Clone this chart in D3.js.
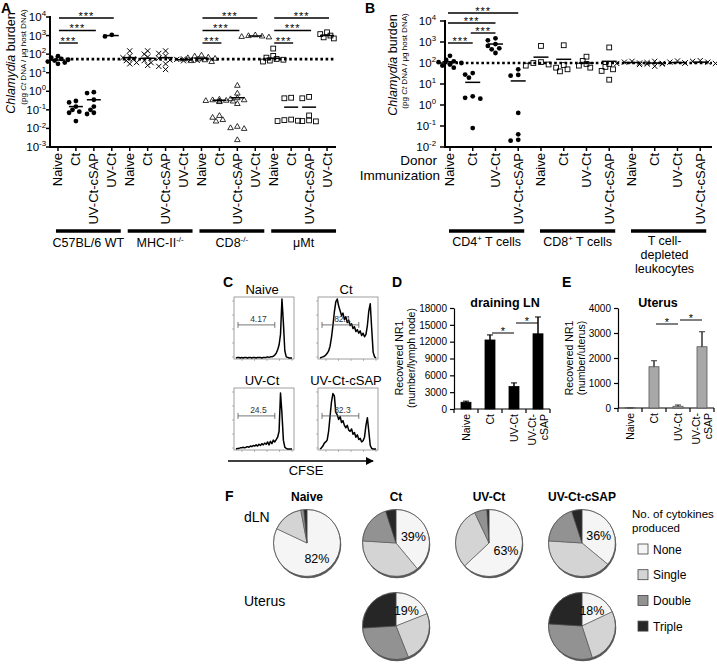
<!DOCTYPE html>
<html><head><meta charset="utf-8">
<script src="https://cdn.jsdelivr.net/npm/d3@7"></script>
<style>body{margin:0;background:#fff} svg{font-family:Arial,"Liberation Sans",Helvetica,sans-serif}</style>
</head><body><svg id="c" width="717" height="664"></svg>
<script>
// ================= DATA =================
// Panel A
const aGroupNames = ["C57BL/6 WT", "MHC-II", "CD8", "μMt"];
const aGroupSups = ["", "-/-", "-/-", ""];
const aImmunizations = ["Naive", "Ct", "UV-Ct-cSAP", "UV-Ct"];
const aWT = [[78, 65, 55, 50, 45, 40, 35, 30], [0.3, 0.25, 0.15, 0.1, 0.08, 0.07, 0.025], [0.9, 0.8, 0.35, 0.15, 0.1, 0.07, 0.06], [1100, 900]];
const aWTMean = [48, 0.15, 0.35, 1000];
const aMHC = [[150, 80, 65, 55, 45, 35, 30], [150, 100, 70, 45, 35, 25], [150, 110, 80, 60, 30, 22, 15], [55, 52, 50, 48, 46, 44]];
const aMHCMean = [65, 60, 65, 50];
const aCD8 = [[90, 80, 70, 65, 60, 55, 50, 45, 40], [0.38, 0.35, 0.33, 0.32, 0.3, 0.3, 0.28, 0.05, 0.04, 0.03, 0.025], [2.1, 0.8, 0.45, 0.4, 0.35, 0.22, 0.013, 0.011, 0.01, 0.0025], [1100, 1000, 950, 900, 850]];
const aCD8Mean = [60, 0.33, 0.45, 950];
const aMuMt = [[200, 80, 65, 55, 50, 45, 40], [0.45, 0.42, 0.03, 0.028, 0.026, 0.025], [0.5, 0.42, 0.05, 0.027, 0.025, 0.024], [1500, 1200, 1000, 800, 700]];
const aMuMtMean = [60, 0.14, 0.14, 1000];
const aBaseline = 54;
const aSigGroups = [0, 2, 3];
const aSigPairs = [[0, 1], [0, 2], [0, 3]];
const aTicks = [-3, -2, -1, 0, 1, 2, 3, 4];

// Panel B
const bGroupNames = ["CD4", "CD8", "T cell-|depleted|leukocytes"];
const bImmunizations = ["Naive", "Ct", "UV-Ct", "UV-Ct-cSAP"];
const bCD4 = [[220, 140, 120, 110, 100, 85, 75, 60], [33, 28, 20, 2.6, 2.2, 2.0, 0.08], [1500, 1200, 800, 650, 500, 450, 300], [50, 27, 25, 0.42, 0.04, 0.022, 0.02]];
const bCD4Mean = [115, 12, 800, 14];
const bCD8 = [[650, 110, 100, 85, 75], [700, 80, 60, 50, 40], [200, 125, 90, 75, 60], [550, 90, 65, 50, 42, 16]];
const bCD8Mean = [190, 150, 100, 120];
const bTdep = [[120, 110, 100, 95, 90], [120, 105, 95, 85, 70], [125, 110, 100, 90], [130, 120, 110, 100, 95]];
const bTdepMean = [105, 100, 105, 110];
const bBaseline = 100;
const bSigPairs = [[0, 1], [1, 2], [0, 2], [0, 3]];
const bTicks = [-2, -1, 0, 1, 2, 3, 4];

// Panel C
const histTitles = ["Naive", "Ct", "UV-Ct", "UV-Ct-cSAP"];
const histGates = ["4.17", "82.1", "24.5", "82.3"];
const histNaive = [0,0.01,0.01,0,0.01,0,0.01,0.01,0,0.01,0.01,0,0.01,0.01,0,0.01,0.01,0.01,0,0.01,0.01,0.01,0.02,0.01,0.02,0.02,0.03,0.05,0.08,0.14,0.22,0.4,1.0,0.6,0.12,0.02,0.01,0,0,0];
const histCt = [0,0.01,0.02,0.03,0.05,0.08,0.12,0.2,0.35,0.55,0.78,0.95,1.0,0.88,0.8,0.72,0.76,0.65,0.7,0.6,0.64,0.55,0.58,0.5,0.53,0.45,0.48,0.42,0.46,0.38,0.42,0.36,0.4,0.55,0.8,0.92,0.5,0.1,0.02,0];
const histUV = [0,0.01,0.01,0.02,0.02,0.03,0.02,0.03,0.04,0.03,0.05,0.04,0.06,0.05,0.07,0.05,0.08,0.06,0.09,0.07,0.1,0.08,0.12,0.07,0.13,0.09,0.15,0.12,0.16,0.2,0.3,0.95,0.6,0.15,0.03,0.01,0,0,0,0];
const histCsap = [0,0.02,0.05,0.1,0.12,0.15,0.3,0.55,0.8,0.94,0.9,0.62,0.58,0.5,0.55,0.45,0.48,0.4,0.36,0.4,0.32,0.3,0.34,0.25,0.28,0.2,0.24,0.16,0.18,0.12,0.14,0.2,0.4,0.53,0.3,0.06,0.01,0,0,0];

// Panels D and E
const deCats = ["Naive", "Ct", "UV-Ct", "UV-Ct-|cSAP"];
const dMean = [1200, 12300, 4000, 13400];
const dErr = [200, 900, 650, 3000];
const dTicks = [0, 3000, 6000, 9000, 12000, 15000, 18000];
const eMean = [10, 1650, 70, 2450];
const eErr = [5, 240, 50, 600];
const eTicks = [0, 1000, 2000, 3000, 4000];
const deSigPairs = [[1, 2], [2, 3]];

// Panel F
const pieCats = ["None", "Single", "Double", "Triple"];
const pieColors = ["#f5f5f5", "#d4d4d4", "#929292", "#262626"];
const fTitles = ["Naive", "Ct", "UV-Ct", "UV-Ct-cSAP"];
const fNaiveDLN = [82, 15, 1.5, 1.5];
const fCtDLN = [39, 37, 19, 5];
const fUVDLN = [63, 30, 6, 1];
const fCsapDLN = [36, 40, 19, 5];
const fCtUterus = [19, 25, 30, 26];
const fCsapUterus = [18, 27, 31, 24];

// ================= DRAWING =================
const svg = d3.select("#c");

function panelLetter(t, x, y) {
  svg.append("text").attr("x", x).attr("y", y).attr("font-size", 14).attr("font-weight", "bold").text(t);
}

function marker(g, type, x, y) {
  if (type === "dot") g.append("circle").attr("cx", x).attr("cy", y).attr("r", 2.4).attr("fill", "#000");
  else if (type === "tri") g.append("path").attr("d", `M${x},${y-2.8}L${x+2.8},${y+2}L${x-2.8},${y+2}Z`).attr("fill", "none").attr("stroke", "#000").attr("stroke-width", 0.8);
  else if (type === "sq") g.append("rect").attr("x", x-2.4).attr("y", y-2.4).attr("width", 4.8).attr("height", 4.8).attr("fill", "none").attr("stroke", "#000").attr("stroke-width", 0.9);
  else g.append("path").attr("d", `M${x-2.6},${y-2.6}L${x+2.6},${y+2.6}M${x-2.6},${y+2.6}L${x+2.6},${y-2.6}`).attr("stroke", "#000").attr("stroke-width", 1);
}

function swarm(vals, yScale, cx, step) {
  const pts = vals.map(v => ({ y: yScale(v) })).sort((a, b) => a.y - b.y);
  const offs = [0, -1, 1, -2, 2, -3, 3, -4, 4];
  const placed = [];
  pts.forEach(p => {
    for (const o of offs) {
      const x = cx + o * step;
      if (placed.every(q => (q.x - x) ** 2 + (q.y - p.y) ** 2 >= (step * 1.25) ** 2)) { p.x = x; break; }
    }
    if (p.x === undefined) p.x = cx;
    placed.push(p);
  });
  return pts;
}

function rotLabel(g, x, yTop, txt, size) {
  g.append("text").attr("transform", `translate(${x},${yTop}) rotate(-90)`).attr("text-anchor", "end")
    .attr("font-size", size).text(txt);
}

function decadeLabel(g, x, y, e, size) {
  const t = g.append("text").attr("x", x).attr("y", y + size * 0.35).attr("text-anchor", "end").attr("font-size", size);
  t.append("tspan").text("10");
  t.append("tspan").attr("font-size", size * 0.68).attr("dy", -size * 0.42).text(e);
}

function yLabel2(g, x1, y1, x2, y2) {
  const t1 = g.append("text").attr("transform", `translate(${x1},${y1}) rotate(-90)`).attr("text-anchor", "middle")
    .attr("font-size", 12.5);
  t1.append("tspan").attr("font-style", "italic").text("Chlamydia");
  t1.append("tspan").text(" burden");
  const t2 = g.append("text").attr("transform", `translate(${x2},${y2}) rotate(-90)`).attr("text-anchor", "middle")
    .attr("font-size", 8);
  t2.append("tspan").text("(pg ");
  t2.append("tspan").attr("font-style", "italic").text("Ct");
  t2.append("tspan").text(" DNA / μg host DNA)");
}

// ---------- Panel A ----------
(function () {
  const g = svg.append("g");
  panelLetter("A", 1, 13);
  const x = d3.scaleBand().domain(d3.range(16)).range([49, 336]);
  const cx = i => x(i) + x.bandwidth() / 2;
  const y = d3.scaleLog().domain([1e-3, 1e4]).range([147, 17]);
  g.append("line").attr("x1", 50).attr("x2", 50).attr("y1", 16).attr("y2", 148).attr("stroke", "#000").attr("stroke-width", 2);
  g.append("line").attr("x1", 49).attr("x2", 336).attr("y1", 147).attr("y2", 147).attr("stroke", "#000").attr("stroke-width", 2);
  aTicks.forEach(e => {
    const yy = y(Math.pow(10, e));
    g.append("line").attr("x1", 46).attr("x2", 50).attr("y1", yy).attr("y2", yy).attr("stroke", "#000").attr("stroke-width", 1.5);
    decadeLabel(g, 46, yy, e, 11.5);
  });
  yLabel2(g, 15, 63, 26, 57);
  g.append("line").attr("x1", 50).attr("x2", 336).attr("y1", y(aBaseline)).attr("y2", y(aBaseline))
    .attr("stroke", "#000").attr("stroke-width", 2.6).attr("stroke-dasharray", "2.6,2.6");
  const groups = [aWT, aMHC, aCD8, aMuMt];
  const means = [aWTMean, aMHCMean, aCD8Mean, aMuMtMean];
  const mtypes = ["dot", "x", "tri", "sq"];
  groups.forEach((gd, gi) => {
    gd.forEach((vals, ci) => {
      const i = gi * 4 + ci;
      const c = cx(i);
      swarm(vals, y, c, 3.4).forEach(p => marker(g, mtypes[gi], p.x, p.y));
      const m = y(means[gi][ci]);
      g.append("line").attr("x1", c - 7).attr("x2", c + 7).attr("y1", m).attr("y2", m).attr("stroke", "#000").attr("stroke-width", 1.5);
    });
    for (let ci = 0; ci < 4; ci++) {
      const i = gi * 4 + ci;
      g.append("line").attr("x1", cx(i)).attr("x2", cx(i)).attr("y1", 147).attr("y2", 151).attr("stroke", "#000").attr("stroke-width", 1.5);
      rotLabel(g, cx(i) + 4.5, 153, aImmunizations[ci], 13);
    }
    const x1 = cx(gi * 4) - 2, x2 = cx(gi * 4 + 3) + 9;
    g.append("line").attr("x1", x1).attr("x2", x2).attr("y1", 231).attr("y2", 231).attr("stroke", "#000").attr("stroke-width", 3.5);
    const t = g.append("text").attr("x", (x1 + x2) / 2).attr("y", 247).attr("text-anchor", "middle").attr("font-size", 12.5);
    t.append("tspan").text(aGroupNames[gi]);
    if (aGroupSups[gi]) t.append("tspan").attr("font-size", 8).attr("dy", -5).text(aGroupSups[gi]);
  });
  aSigGroups.forEach(gi => {
    aSigPairs.forEach((pr, lvl) => {
      const yy = 43 - lvl * 12.5;
      const a = cx(gi * 4 + pr[0]) + 1, b = cx(gi * 4 + pr[1]) + 2;
      g.append("line").attr("x1", a).attr("x2", b).attr("y1", yy).attr("y2", yy).attr("stroke", "#000").attr("stroke-width", 1.4);
      g.append("text").attr("x", (a + b) / 2).attr("y", yy + 1.5).attr("text-anchor", "middle").attr("font-size", 11).attr("letter-spacing", 1).text("***");
    });
  });
})();

// ---------- Panel B ----------
(function () {
  const g = svg.append("g");
  panelLetter("B", 365, 13);
  const x = d3.scaleBand().domain(d3.range(12)).range([438.6, 711.6]);
  const cx = i => x(i) + x.bandwidth() / 2;
  const y = d3.scaleLog().domain([1e-2, 1e4]).range([147, 21]);
  g.append("line").attr("x1", 445).attr("x2", 445).attr("y1", 20).attr("y2", 148).attr("stroke", "#000").attr("stroke-width", 2);
  g.append("line").attr("x1", 444).attr("x2", 712).attr("y1", 147).attr("y2", 147).attr("stroke", "#000").attr("stroke-width", 2);
  bTicks.forEach(e => {
    const yy = y(Math.pow(10, e));
    g.append("line").attr("x1", 440).attr("x2", 445).attr("y1", yy).attr("y2", yy).attr("stroke", "#000").attr("stroke-width", 1.5);
    decadeLabel(g, 436, yy, e, 11.5);
  });
  yLabel2(g, 397, 65, 407, 61);
  g.append("line").attr("x1", 445).attr("x2", 712).attr("y1", y(bBaseline)).attr("y2", y(bBaseline))
    .attr("stroke", "#000").attr("stroke-width", 2.6).attr("stroke-dasharray", "2.6,2.6");
  const groups = [bCD4, bCD8, bTdep];
  const means = [bCD4Mean, bCD8Mean, bTdepMean];
  const mtypes = ["dot", "sq", "x"];
  groups.forEach((gd, gi) => {
    gd.forEach((vals, ci) => {
      const i = gi * 4 + ci;
      const c = cx(i);
      swarm(vals, y, c, 3.8).forEach(p => marker(g, mtypes[gi], p.x, p.y));
      const m = y(means[gi][ci]);
      g.append("line").attr("x1", c - 7.5).attr("x2", c + 7.5).attr("y1", m).attr("y2", m).attr("stroke", "#000").attr("stroke-width", 1.5);
      g.append("line").attr("x1", c).attr("x2", c).attr("y1", 147).attr("y2", 151).attr("stroke", "#000").attr("stroke-width", 1.5);
      rotLabel(g, c + 4.5, 153, bImmunizations[ci], 13);
    });
    const x1 = cx(gi * 4) - 1, x2 = cx(gi * 4 + 3) + 6;
    g.append("line").attr("x1", x1).attr("x2", x2).attr("y1", 231).attr("y2", 231).attr("stroke", "#000").attr("stroke-width", 3.5);
    const lines = bGroupNames[gi].split("|");
    if (lines.length === 1) {
      const t = g.append("text").attr("x", (x1 + x2) / 2).attr("y", 246).attr("text-anchor", "middle").attr("font-size", 12.5);
      t.append("tspan").text(lines[0]);
      t.append("tspan").attr("font-size", 8).attr("dy", -5).text("+");
      t.append("tspan").attr("dy", 5).text(" T cells");
    } else {
      lines.forEach((l, k) => g.append("text").attr("x", (x1 + x2) / 2 - 4).attr("y", 245 + k * 14).attr("text-anchor", "middle").attr("font-size", 12.5).text(l));
    }
  });
  g.append("text").attr("x", 437).attr("y", 165).attr("text-anchor", "end").attr("font-size", 13.5).text("Donor");
  g.append("text").attr("x", 440).attr("y", 180).attr("text-anchor", "end").attr("font-size", 13.5).text("Immunization");
  bSigPairs.forEach((pr, lvl) => {
    const yy = 43 - lvl * 10;
    const a = cx(pr[0]) - 2, b = cx(pr[1]);
    g.append("line").attr("x1", a).attr("x2", b).attr("y1", yy).attr("y2", yy).attr("stroke", "#000").attr("stroke-width", 1.4);
    g.append("text").attr("x", (a + b) / 2).attr("y", yy + 1.5).attr("text-anchor", "middle").attr("font-size", 11).attr("letter-spacing", 1).text("***");
  });
})();

// ---------- Panel C ----------
(function () {
  const g = svg.append("g");
  panelLetter("C", 223, 287);
  const hists = [histNaive, histCt, histUV, histCsap];
  const fxs = [234, 318], fys = [297, 388], w = 60, h = 62;
  hists.forEach((hd, k) => {
    const fx = fxs[k % 2], fy = fys[Math.floor(k / 2)];
    g.append("text").attr("x", fx + w / 2 - 2).attr("y", fy - 3).attr("text-anchor", "middle").attr("font-size", 13).text(histTitles[k]);
    g.append("rect").attr("x", fx).attr("y", fy).attr("width", w).attr("height", h).attr("fill", "none").attr("stroke", "#888").attr("stroke-width", 0.8);
    for (let t = 0; t < 5; t++) {
      const tx = fx + 8 + t * 12.5;
      g.append("line").attr("x1", tx).attr("x2", tx).attr("y1", fy + h).attr("y2", fy + h + 2).attr("stroke", "#777").attr("stroke-width", 0.5);
      const ty = fy + h - 2 - t * 14;
      g.append("line").attr("x1", fx - 2).attr("x2", fx).attr("y1", ty).attr("y2", ty).attr("stroke", "#777").attr("stroke-width", 0.5);
    }
    const hx = d3.scaleLinear().domain([0, hd.length - 1]).range([fx + 2, fx + w - 2]);
    const hy = d3.scaleLinear().domain([0, 1]).range([fy + h - 1, fy + 2]);
    g.append("path").datum(hd).attr("d", d3.line().x((d, i) => hx(i)).y(d => hy(d))).attr("fill", "none").attr("stroke", "#000").attr("stroke-width", 1.5).attr("stroke-linejoin", "round");
    const gy = fy + h * 0.45, ga = fx + 4, gb = fx + w * 0.68;
    g.append("line").attr("x1", ga).attr("x2", gb).attr("y1", gy).attr("y2", gy).attr("stroke", "#555").attr("stroke-width", 0.8);
    g.append("line").attr("x1", ga).attr("x2", ga).attr("y1", gy - 3).attr("y2", gy + 3).attr("stroke", "#555").attr("stroke-width", 0.8);
    g.append("line").attr("x1", gb).attr("x2", gb).attr("y1", gy - 3).attr("y2", gy + 3).attr("stroke", "#555").attr("stroke-width", 0.8);
    g.append("text").attr("x", (ga + gb) / 2 + 2).attr("y", gy - 3).attr("text-anchor", "middle").attr("font-size", 8.5).attr("fill", "#333").text(histGates[k]);
  });
  svg.append("defs").append("marker").attr("id", "arr").attr("viewBox", "0 0 10 10").attr("refX", 9).attr("refY", 5)
    .attr("markerWidth", 5).attr("markerHeight", 5).attr("orient", "auto").append("path").attr("d", "M0,0L10,5L0,10Z").attr("fill", "#000");
  g.append("line").attr("x1", 228).attr("x2", 373).attr("y1", 461).attr("y2", 461).attr("stroke", "#000").attr("stroke-width", 1.6).attr("marker-end", "url(#arr)");
  g.append("text").attr("x", 306).attr("y", 475).attr("text-anchor", "middle").attr("font-size", 13).text("CFSE");
})();

// ---------- Panels D & E ----------
function barPanel(opts) {
  const g = svg.append("g");
  panelLetter(opts.letter, opts.lx, 287);
  const x = d3.scaleBand().domain(d3.range(4)).range([opts.x0, opts.x0 + 96]);
  const cx = i => x(i) + x.bandwidth() / 2;
  const y = d3.scaleLinear().domain([0, opts.max]).range([opts.y0, 308]);
  g.append("text").attr("x", opts.tx).attr("y", 307).attr("text-anchor", "middle").attr("font-size", 12.5).attr("font-weight", "bold").text(opts.title);
  const ax = g.append("g").attr("transform", `translate(${opts.x0},0)`)
    .call(d3.axisLeft(y).tickValues(opts.ticks).tickSize(4).tickSizeOuter(0).tickFormat(d3.format("d")));
  ax.selectAll("text").attr("font-size", 10).attr("font-family", "Arial,'Liberation Sans',sans-serif").attr("fill", "#000");
  ax.selectAll("line,path").attr("stroke", "#000").attr("stroke-width", 1.2);
  g.append("line").attr("x1", opts.x0).attr("x2", opts.x0 + 96).attr("y1", opts.y0).attr("y2", opts.y0).attr("stroke", "#000").attr("stroke-width", 1.2);
  for (let i = 0; i <= 4; i++) g.append("line").attr("x1", opts.x0 + i * 24).attr("x2", opts.x0 + i * 24).attr("y1", opts.y0).attr("y2", opts.y0 + 4).attr("stroke", "#000").attr("stroke-width", 1.2);
  opts.mean.forEach((v, i) => {
    const c = cx(i);
    g.append("line").attr("x1", c).attr("x2", c).attr("y1", y(Math.max(0, v - opts.err[i]))).attr("y2", y(v + opts.err[i])).attr("stroke", opts.ecol).attr("stroke-width", 1);
    [v + opts.err[i], Math.max(0, v - opts.err[i])].forEach(e => g.append("line").attr("x1", c - 3).attr("x2", c + 3).attr("y1", y(e)).attr("y2", y(e)).attr("stroke", opts.ecol).attr("stroke-width", 1));
    g.append("rect").attr("x", c - 5).attr("width", 10).attr("y", y(v)).attr("height", opts.y0 - y(v))
      .attr("fill", opts.fill).attr("stroke", opts.stroke).attr("stroke-width", 0.8);
    g.append("line").attr("x1", c).attr("x2", c).attr("y1", y(v + opts.err[i])).attr("y2", y(v)).attr("stroke", opts.ecol).attr("stroke-width", 1);
    const parts = deCats[i].split("|");
    parts.forEach((p, k) => rotLabel(g, c + 3.7 + (parts.length > 1 ? (k - 0.5) * 12 : 0), opts.y0 + 5, p, 10.5));
  });
  deSigPairs.forEach((pr, k) => {
    const yy = opts.sigY[k];
    const a = cx(pr[0]) + 2, b = cx(pr[1]);
    g.append("line").attr("x1", a).attr("x2", b).attr("y1", yy).attr("y2", yy).attr("stroke", "#000").attr("stroke-width", 1);
    g.append("text").attr("x", (a + b) / 2).attr("y", yy + 1.5).attr("text-anchor", "middle").attr("font-size", 11).text("*");
  });
  g.append("text").attr("transform", `translate(${opts.lab1},358) rotate(-90)`).attr("text-anchor", "middle").attr("font-size", 10.5).text("Recovered NR1");
  g.append("text").attr("transform", `translate(${opts.lab1 + 12},358) rotate(-90)`).attr("text-anchor", "middle").attr("font-size", 10.5).text(opts.unit);
}
barPanel({ letter: "D", lx: 392, x0: 454, y0: 409, max: 18000, ticks: dTicks, mean: dMean, err: dErr, title: "draining LN", tx: 505,
  fill: "#000", stroke: "#000", ecol: "#000", sigY: [333, 323], lab1: 403, unit: "(number/lymph node)" });
barPanel({ letter: "E", lx: 562, x0: 618, y0: 408, max: 4000, ticks: eTicks, mean: eMean, err: eErr, title: "Uterus", tx: 658,
  fill: "#a8a8a8", stroke: "#555", ecol: "#333", sigY: [324, 320], lab1: 573, unit: "(number/uterus)" });

// ---------- Panel F ----------
(function () {
  const g = svg.append("g");
  panelLetter("F", 225, 501);
  const pxs = [307, 396, 489, 582];
  fTitles.forEach((t, i) => g.append("text").attr("x", pxs[i]).attr("y", 501).attr("text-anchor", "middle").attr("font-size", 12).attr("font-weight", "bold").text(t));
  g.append("text").attr("x", 244).attr("y", 522).attr("font-size", 14).text("dLN");
  g.append("text").attr("x", 244).attr("y", 606).attr("font-size", 14).text("Uterus");
  const r = 33.5;
  const pie = d3.pie().sort(null).startAngle(0).endAngle(2 * Math.PI);
  const arc = d3.arc().innerRadius(0).outerRadius(r);
  const pies = [[fNaiveDLN, 0, 543], [fCtDLN, 1, 543], [fUVDLN, 2, 543], [fCsapDLN, 3, 543], [fCtUterus, 1, 626], [fCsapUterus, 3, 626]];
  pies.forEach(([vals, xi, cy]) => {
    const cxp = pxs[xi];
    const pg = g.append("g").attr("transform", `translate(${cxp},${cy})`);
    pg.append("circle").attr("cx", 0.8).attr("cy", 1.8).attr("r", r).attr("fill", "#5a5a5a");
    const arcs = pie(vals);
    pg.selectAll("path.s").data(arcs).enter().append("path").attr("d", arc).attr("fill", (d, i) => pieColors[i]).attr("stroke", "#555").attr("stroke-width", 0.6);
    pg.append("circle").attr("r", r).attr("fill", "none").attr("stroke", "#555").attr("stroke-width", 0.7);
    const a0 = arcs[0];
    const mid = (a0.startAngle + a0.endAngle) / 2;
    const rr = 18.5;
    pg.append("text").attr("x", Math.sin(mid) * rr).attr("y", -Math.cos(mid) * rr + 4.5).attr("text-anchor", "middle").attr("font-size", 12.5).text(Math.round(vals[0]) + "%");
  });
  g.append("text").attr("x", 632).attr("y", 518).attr("font-size", 11.5).text("No. of cytokines");
  g.append("text").attr("x", 632).attr("y", 532).attr("font-size", 11.5).text("produced");
  pieCats.forEach((c, i) => {
    const yy = 549 + i * 25.7;
    g.append("rect").attr("x", 638).attr("y", yy - 5).attr("width", 10).attr("height", 10).attr("fill", pieColors[i]).attr("stroke", "#444").attr("stroke-width", 0.8);
    g.append("text").attr("x", 653).attr("y", yy + 4.5).attr("font-size", 12).text(c);
  });
})();
</script></body></html>
